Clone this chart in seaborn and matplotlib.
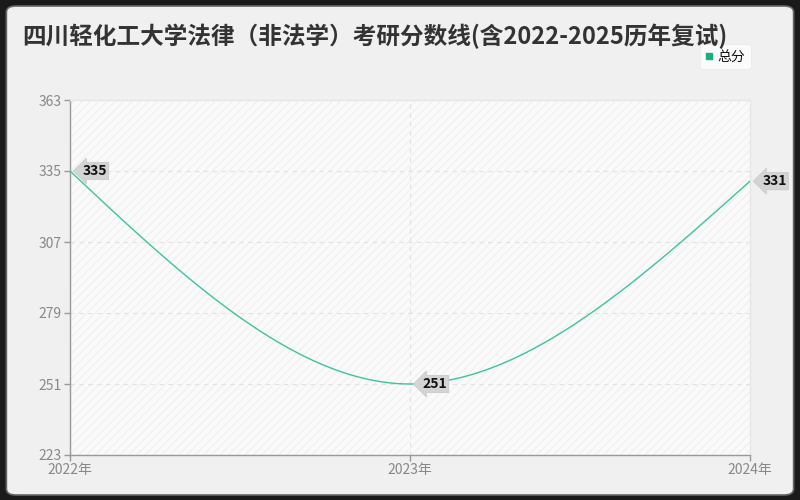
import numpy as np
import pandas as pd
import matplotlib
matplotlib.use("Agg")
import matplotlib.pyplot as plt
import seaborn as sns
from matplotlib.patches import FancyBboxPatch, Rectangle
from matplotlib.lines import Line2D

# -----------------------------
# Data
# -----------------------------
years = [2022, 2023, 2024]
scores = [335, 251, 331]
year_labels = ["2022年", "2023年", "2024年"]
y_ticks = [223, 251, 279, 307, 335, 363]
title = "四川轻化工大学法律（非法学）考研分数线(含2022-2025历年复试)"
series_name = "总分"

line_color = "#3cc49a"

sns.set_theme(style="white")
plt.rcParams["font.family"] = ["Noto Sans CJK SC", "DejaVu Sans"]

fig = plt.figure(figsize=(8, 5), dpi=100)
fig.patch.set_facecolor("#1a1a1a")
fig.patches.append(FancyBboxPatch((0.008, 0.01), 0.984, 0.978,
                                  boxstyle="round,pad=0,rounding_size=0.012",
                                  transform=fig.transFigure, fc="#f0f0f0",
                                  ec="#666666", lw=1.2, zorder=-10))

ax = fig.add_axes([70 / 800, 45 / 500, 680 / 800, 355 / 500])
ax.set_zorder(2)
ax.set_facecolor("#fafafa")
ax.add_patch(Rectangle((0, 0), 1, 1, transform=ax.transAxes, fill=False,
                       hatch="////", ec="#f1f1f1", lw=0, zorder=0))

# smooth (monotone cubic) curve through the points, like the original renderer
x = np.array(years, dtype=float)
y = np.array(scores, dtype=float)
h = np.diff(x)
s = np.diff(y) / h
m = np.zeros_like(y)
for i in range(1, len(y) - 1):
    if s[i - 1] * s[i] > 0:
        m[i] = 2 / (1 / s[i - 1] + 1 / s[i])
m[0] = (3 * s[0] - m[1]) / 2
m[-1] = (3 * s[-1] - m[-2]) / 2
xs, ys = [], []
for i in range(len(h)):
    t = np.linspace(0, 1, 60)
    h00 = 2 * t**3 - 3 * t**2 + 1
    h10 = t**3 - 2 * t**2 + t
    h01 = -2 * t**3 + 3 * t**2
    h11 = t**3 - t**2
    xs.extend(x[i] + t * h[i])
    ys.extend(h00 * y[i] + h10 * h[i] * m[i] + h01 * y[i + 1] + h11 * h[i] * m[i + 1])
curve = pd.DataFrame({"year": xs, "score": ys})

sns.lineplot(data=curve, x="year", y="score", ax=ax, color=line_color, lw=1,
             legend=False, zorder=3)

# value labels
for xv, yv in zip(years, scores):
    ax.annotate(str(yv), (xv, yv), xytext=(9, 0), textcoords="offset points",
                ha="left", va="center", fontsize=10, fontweight="bold",
                color="#111111",
                bbox=dict(boxstyle="larrow,pad=0.12", fc="#d4d4d4", ec="#c8c8c8", lw=0.5),
                zorder=5, annotation_clip=False)

ax.set_xlim(2022, 2024)
ax.set_ylim(223, 363)
ax.set_xticks(years)
ax.set_xticklabels(year_labels)
ax.set_yticks(y_ticks)
ax.set_xlabel("")
ax.set_ylabel("")
ax.tick_params(axis="both", colors="#999999", labelsize=10, length=4, width=1,
               direction="out", labelcolor="#888888")
ax.tick_params(axis="x", pad=2)
ax.tick_params(axis="y", pad=2)
ax.xaxis.set_ticks_position("bottom")
ax.yaxis.set_ticks_position("left")

ax.grid(True, axis="y", ls=(0, (4, 4)), color="#e2e2e2", lw=0.8)
ax.axvline(2023, ls=(0, (4, 4)), color="#e2e2e2", lw=0.8, zorder=1)

for side in ["left", "bottom"]:
    ax.spines[side].set_color("#999999")
    ax.spines[side].set_linewidth(1)
for side in ["top", "right"]:
    ax.spines[side].set_color("#e6e6e6")
    ax.spines[side].set_linewidth(1)

handle = Line2D([], [], ls="none", marker="s", markersize=4,
                color="#19b07f", label=series_name)
leg = ax.legend(handles=[handle], loc="upper right",
                bbox_to_anchor=(751 / 800, 1 - 44 / 500),
                bbox_transform=fig.transFigure, frameon=True, fontsize=10,
                handlelength=0.6, handletextpad=0.3, borderpad=0.4,
                borderaxespad=0, fancybox=True)
leg.get_frame().set_facecolor("white")
leg.get_frame().set_edgecolor("#e8e8e8")
leg.get_frame().set_linewidth(0.6)
for txt in leg.get_texts():
    txt.set_color("#111111")

fig.text(22 / 800, 1 - 36 / 500, title, fontsize=17, fontweight="bold",
         color="#333333", ha="left", va="center")

fig.savefig("out.png", dpi=100, facecolor=fig.get_facecolor())
